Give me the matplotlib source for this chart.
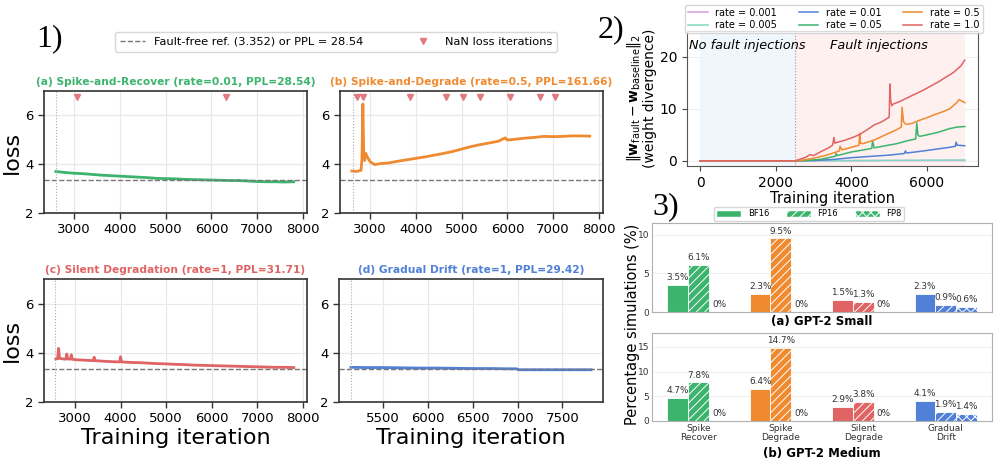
import numpy as np
import matplotlib
matplotlib.use("Agg")
import matplotlib.pyplot as plt
from matplotlib.lines import Line2D
from matplotlib.patches import Patch

W, H = 996, 458

# --------------------------
# Panel 1: loss curves
# --------------------------
ref_loss = 3.352

a_iter = [2600, 2800, 3000, 3200, 3400, 3600, 3800, 4000, 4200, 4400, 4600, 4800, 5000, 5200,
          5400, 5600, 5800, 6000, 6200, 6400, 6600, 6800, 7000, 7200, 7400, 7600, 7800]
a_loss = [3.70, 3.66, 3.63, 3.61, 3.58, 3.55, 3.53, 3.51, 3.49, 3.47, 3.45, 3.42, 3.41, 3.40,
          3.38, 3.37, 3.36, 3.35, 3.34, 3.33, 3.33, 3.31, 3.29, 3.28, 3.28, 3.27, 3.28]
a_nan = [3070, 6330]

b_iter = [2600, 2700, 2800, 2820, 2840, 2860, 2880, 2900, 2950, 3000, 3100, 3200, 3400, 3600,
          3800, 4000, 4200, 4400, 4600, 4800, 5000, 5200, 5400, 5600, 5800, 5950, 6000, 6200,
          6400, 6600, 6800, 7000, 7200, 7400, 7600, 7800]
b_loss = [3.72, 3.70, 3.75, 4.20, 6.47, 4.30, 4.15, 4.45, 4.25, 4.10, 3.98, 4.02, 4.05, 4.12,
          4.18, 4.24, 4.30, 4.37, 4.44, 4.52, 4.62, 4.72, 4.80, 4.87, 4.94, 5.08, 4.99, 5.03,
          5.07, 5.10, 5.14, 5.13, 5.14, 5.16, 5.16, 5.15]
b_nan = [2707, 2840, 3880, 4653, 5040, 5390, 6047, 6707, 7030]

c_iter = [2580, 2620, 2640, 2660, 2700, 2800, 2820, 2840, 2900, 2920, 2940, 3000, 3200, 3400,
          3420, 3440, 3600, 3800, 3980, 4000, 4020, 4200, 4400, 4600, 4800, 5000, 5200, 5400,
          5600, 5800, 6000, 6200, 6400, 6600, 6800, 7000, 7200, 7400, 7600, 7800]
c_loss = [3.75, 3.76, 4.18, 3.78, 3.76, 3.74, 3.95, 3.75, 3.74, 3.92, 3.74, 3.72, 3.70, 3.68,
          3.82, 3.68, 3.66, 3.64, 3.63, 3.84, 3.63, 3.61, 3.60, 3.58, 3.56, 3.55, 3.53, 3.52,
          3.50, 3.49, 3.48, 3.47, 3.46, 3.45, 3.44, 3.43, 3.42, 3.41, 3.41, 3.40]

d_iter = [5140, 5300, 5500, 5700, 5900, 6100, 6300, 6500, 6700, 6900, 6990, 7010, 7200, 7400, 7600, 7820]
d_loss = [3.41, 3.40, 3.40, 3.39, 3.38, 3.38, 3.37, 3.36, 3.36, 3.35, 3.35, 3.31, 3.31, 3.31, 3.31, 3.31]

green, orange, red, blue = "#3cb46e", "#f08a30", "#e06464", "#5080d8"
nan_color = "#e07a80"

# --------------------------
# Panel 2: weight divergence
# --------------------------
div_x = {
    "1.0": [0, 2500, 2600, 2800, 2900, 3000, 3200, 3400, 3500, 3540, 3560, 3600, 3800, 4000, 4200,
            4400, 4600, 4800, 5000, 5020, 5040, 5070, 5100, 5300, 5500, 5700, 5900, 6100, 6300,
            6500, 6700, 6900, 7000],
    "0.5": [0, 2500, 2700, 3000, 3300, 3600, 3680, 3700, 3750, 4000, 4200, 4220, 4240, 4300, 4600,
            4900, 5200, 5320, 5340, 5380, 5450, 5600, 5800, 6000, 6200, 6400, 6600, 6800, 6850, 7000],
    "0.05": [0, 2500, 2800, 3200, 3580, 3600, 3620, 4000, 4400, 4540, 4560, 4600, 4900, 5200, 5500,
             5700, 5730, 5760, 5800, 6000, 6300, 6600, 6800, 7000],
    "0.01": [0, 2500, 3000, 3500, 4000, 4500, 5000, 5400, 5430, 5460, 5800, 6200, 6600, 6750, 6770,
             6800, 7000],
    "0.005": [0, 2500, 7000],
    "0.001": [0, 2500, 7000],
}
div_y = {
    "1.0": [0, 0, 0.2, 0.7, 1.2, 1.0, 1.8, 2.5, 3.0, 4.5, 3.4, 3.5, 3.9, 4.4, 5.0, 5.9, 6.9, 7.5,
            8.4, 14.8, 11.5, 10.6, 10.9, 11.5, 12.2, 12.9, 13.6, 14.4, 15.2, 16.1, 17.0, 18.3, 19.4],
    "0.5": [0, 0, 0.1, 0.5, 1.0, 1.7, 1.9, 2.8, 2.1, 2.6, 3.0, 5.3, 3.4, 3.3, 4.0, 5.0, 6.0, 6.5,
            10.3, 7.5, 7.0, 7.2, 7.8, 8.3, 8.9, 9.4, 10.0, 11.3, 11.8, 11.2],
    "0.05": [0, 0, 0.05, 0.3, 0.9, 1.4, 1.0, 1.7, 2.2, 2.4, 3.9, 2.5, 2.9, 3.3, 3.9, 4.2, 7.3, 5.0,
             4.7, 5.0, 5.5, 6.2, 6.5, 6.6],
    "0.01": [0, 0, 0.05, 0.25, 0.6, 0.85, 1.1, 1.4, 1.9, 1.5, 1.8, 2.2, 2.6, 2.8, 3.6, 3.0, 2.9],
    "0.005": [0, 0, 0.15],
    "0.001": [0, 0, 0.05],
}
rate_colors = {"0.001": "#d8a0e0", "0.005": "#80d8c0", "0.01": blue,
               "0.05": green, "0.5": orange, "1.0": red}
legend_order = ["0.001", "0.005", "0.01", "0.05", "0.5", "1.0"]

# --------------------------
# Panel 3: percentage bars
# --------------------------
categories = ["Spike\nRecover", "Spike\nDegrade", "Silent\nDegrade", "Gradual\nDrift"]
cat_colors = [green, orange, red, blue]
small_bf16 = [3.5, 2.3, 1.5, 2.3]
small_fp16 = [6.1, 9.5, 1.3, 0.9]
small_fp8 = [0, 0, 0, 0.6]
medium_bf16 = [4.7, 6.4, 2.9, 4.1]
medium_fp16 = [7.8, 14.7, 3.8, 1.9]
medium_fp8 = [0, 0, 0, 1.4]

plt.rcParams["hatch.linewidth"] = 0.7


def rect(l, t, r, b):
    return [l / W, 1 - b / H, (r - l) / W, (b - t) / H]


def fx(x):
    return x / W


def fy(y):
    return 1 - y / H


fig = plt.figure(figsize=(W / 100, H / 100), dpi=100)


def loss_panel(r, xs, ys, color, title, xlim, start, nan=None, xticks=None, ylab=False, xlab=False):
    ax = fig.add_axes(r)
    ax.plot(xs, ys, color=color, lw=2.0)
    ax.axhline(ref_loss, color="#777777", ls="--", lw=1.0)
    ax.axvline(start, color="#aaaaaa", ls=":", lw=0.8)
    if nan:
        ax.plot(nan, [6.75] * len(nan), "v", color=nan_color, ms=5, ls="none")
    ax.set_xlim(*xlim)
    ax.set_ylim(2, 7)
    ax.set_yticks([2, 4, 6])
    if xticks is not None:
        ax.set_xticks(xticks)
    ax.grid(True, color="#e8e8e8", lw=0.8)
    ax.set_axisbelow(True)
    ax.set_title(title, color=color, fontweight="bold", fontsize=7.7, pad=4)
    ax.tick_params(labelsize=9.5, length=4, width=1, color="#333333")
    for s in ax.spines.values():
        s.set_color("#333333")
        s.set_linewidth(1.2)
    if ylab:
        ax.set_ylabel("loss", fontsize=16, labelpad=2)
    if xlab:
        ax.set_xlabel("Training iteration", fontsize=16, labelpad=2)
    return ax


loss_panel(rect(44, 91, 307, 213), a_iter, a_loss, green,
           "(a) Spike-and-Recover (rate=0.01, PPL=28.54)", (2340, 8090), 2600, nan=a_nan,
           xticks=range(3000, 8001, 1000), ylab=True)
loss_panel(rect(340, 91, 603, 213), b_iter, b_loss, orange,
           "(b) Spike-and-Degrade (rate=0.5, PPL=161.66)", (2340, 8090), 2620, nan=b_nan,
           xticks=range(3000, 8001, 1000))
loss_panel(rect(44, 279, 307, 402), c_iter, c_loss, red,
           "(c) Silent Degradation (rate=1, PPL=31.71)", (2320, 8090), 2560,
           xticks=range(3000, 8001, 1000), ylab=True, xlab=True)
loss_panel(rect(339, 279, 603, 402), d_iter, d_loss, blue,
           "(d) Gradual Drift (rate=1, PPL=29.42)", (5006, 7954), 5143,
           xticks=range(5500, 7501, 500), xlab=True)

h1 = [Line2D([], [], color="#777777", ls="--", lw=1.0),
      Line2D([], [], color=nan_color, marker="v", ls="none", ms=5)]
fig.legend(h1, ["Fault-free ref. (3.352) or PPL = 28.54", "NaN loss iterations"],
           loc="center", bbox_to_anchor=(fx(115), fy(52), (557 - 115) / W, 20 / H),
           mode="expand", ncol=2, fontsize=8.2, frameon=True, edgecolor="#cccccc",
           handlelength=2.2, borderaxespad=0, borderpad=0.4)

# --------------------------
# Panel 2
# --------------------------
ax2 = fig.add_axes(rect(687, 31, 978, 166))
ax2.axvspan(0, 2500, color="#f0f7fc", lw=0)
ax2.axvspan(2500, 7000, color="#fdf0ef", lw=0)
ax2.axvline(2500, color="#999999", ls=":", lw=0.8)
for key in legend_order:
    ax2.plot(div_x[key], div_y[key], color=rate_colors[key], lw=1.1, label=f"rate = {key}")
ax2.set_xlim(-350, 7350)
ax2.set_ylim(-1, 25)
ax2.set_xticks([0, 2000, 4000, 6000])
ax2.set_yticks([0, 10, 20])
ax2.grid(True, color="#eeeeee", lw=0.8)
ax2.set_axisbelow(True)
ax2.text(-290, 22.3, "No fault injections", style="italic", fontsize=9.3, va="center")
ax2.text(3430, 22.3, "Fault injections", style="italic", fontsize=9.3, va="center")
ax2.set_xlabel("Training iteration", fontsize=10.5, labelpad=1)
ax2.set_ylabel(r"$\Vert\mathbf{w}_{\mathrm{fault}} - \mathbf{w}_{\mathrm{baseline}}\Vert_2$"
               "\n(weight divergence)", fontsize=10, labelpad=2, linespacing=1.0)
ax2.tick_params(labelsize=10, length=3.5, color="#444444")
for s in ax2.spines.values():
    s.set_color("#555555")
handles, labels = ax2.get_legend_handles_labels()
fig.legend(handles, labels, loc="upper center", bbox_to_anchor=(fx(834), 1.0), ncol=3,
           fontsize=7, frameon=True, edgecolor="#cccccc", handlelength=2.0,
           columnspacing=2.2, handletextpad=0.8, borderpad=0.3, labelspacing=0.25)

# --------------------------
# Panel 3
# --------------------------
x = np.arange(len(categories))
bw = 0.25


def bar_panel(r, bf16, fp16, fp8, show_x):
    ax = fig.add_axes(r)
    for vals, off, hatch in [(bf16, -bw, None), (fp16, 0, "////"), (fp8, bw, "xxxx")]:
        bars = ax.bar(x + off, vals, bw, color=cat_colors, edgecolor="white", lw=0.6, hatch=hatch)
        for b, v in zip(bars, vals):
            txt = "0%" if v == 0 else f"{v}%"
            ax.text(b.get_x() + b.get_width() / 2, v + max(bf16 + fp16) * 0.04, txt,
                    ha="center", va="bottom", fontsize=6.4, color="#333333")
    top = max(bf16 + fp16 + fp8)
    ax.set_ylim(0, top * 1.21)
    ax.set_xticks(x)
    if show_x:
        ax.set_xticklabels(categories, fontsize=6.5, linespacing=1.0)
    else:
        ax.set_xticklabels([])
    ax.tick_params(length=0, labelsize=6.5, colors="#333333", pad=2)
    ax.grid(True, axis="y", color="#eeeeee", lw=0.7)
    ax.set_axisbelow(True)
    for s in ax.spines.values():
        s.set_color("#b0b0b0")
        s.set_linewidth(0.8)
    return ax


ax3a = bar_panel(rect(652, 223, 992, 312), small_bf16, small_fp16, small_fp8, False)
ax3a.set_yticks([0, 5, 10])
ax3b = bar_panel(rect(652, 333, 992, 421), medium_bf16, medium_fp16, medium_fp8, True)
ax3b.set_yticks([0, 5, 10, 15])

fig.text(fx(822), fy(322), "(a) GPT-2 Small", fontweight="bold", fontsize=8.5,
         ha="center", va="center")
fig.text(fx(822), fy(453), "(b) GPT-2 Medium", fontweight="bold", fontsize=8.5,
         ha="center", va="center")
fig.text(fx(632), fy(324), "Percentage simulations (%)", rotation=90, fontsize=10.5,
         ha="center", va="center")

h3 = [Patch(facecolor=green, edgecolor="white"),
      Patch(facecolor=green, edgecolor="white", hatch="////"),
      Patch(facecolor=green, edgecolor="white", hatch="xxxx")]
fig.legend(h3, ["BF16", "FP16", "FP8"], loc="center", bbox_to_anchor=(fx(809), fy(213.5)),
           ncol=3, fontsize=6, frameon=True, edgecolor="#cccccc", handlelength=3.0,
           handleheight=0.9, columnspacing=2.0, borderpad=0.3)

# panel numbers
for label, px, py in [("1)", 49, 39), ("2)", 611, 30), ("3)", 666, 207)]:
    fig.text(fx(px), fy(py), label, fontsize=23, family="Liberation Serif",
             ha="center", va="center")

fig.savefig("out.png", dpi=100)
